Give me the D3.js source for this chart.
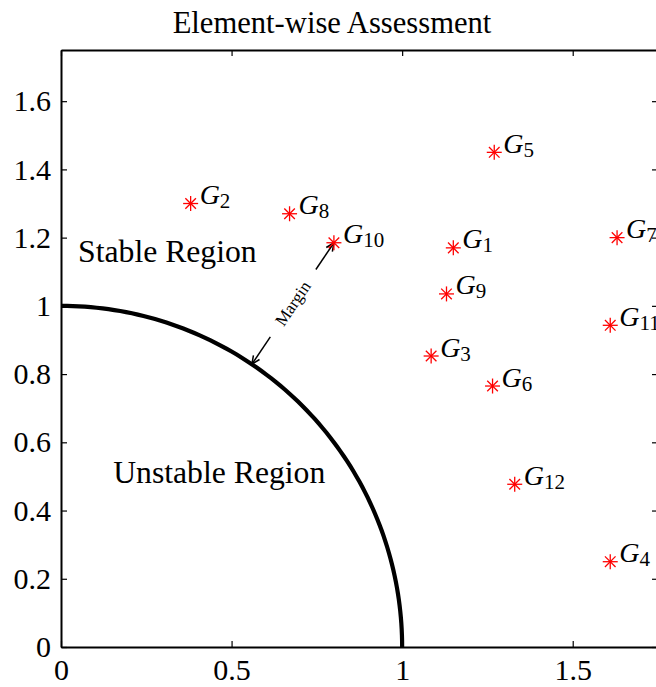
<!DOCTYPE html>
<html>
<head>
<meta charset="utf-8">
<script src="https://cdn.jsdelivr.net/npm/d3@7"></script>
<style>
  html, body { margin: 0; padding: 0; background: #fff; }
  svg { display: block; }
  text { font-family: "Liberation Serif", "Times New Roman", serif; fill: #000; }
</style>
</head>
<body>
<svg id="chart" width="656" height="687"></svg>
<script>
// Element indices and their coordinates in the assessment plane
const groupIds = ["1", "2", "3", "4", "5", "6", "7", "8", "9", "10", "11", "12"];
const groupX = [1.15, 0.38, 1.085, 1.61, 1.27, 1.265, 1.63, 0.67, 1.13, 0.80, 1.61, 1.33];
const groupY = [1.17, 1.30, 0.853, 0.25, 1.45, 0.765, 1.20, 1.27, 1.035, 1.185, 0.943, 0.477];

// Axis ticks and labels
const xTicks = [0, 0.5, 1, 1.5];
const xTickLabels = ["0", "0.5", "1", "1.5"];
const yTicks = [0, 0.2, 0.4, 0.6, 0.8, 1, 1.2, 1.4, 1.6];
const yTickLabels = ["0", "0.2", "0.4", "0.6", "0.8", "1", "1.2", "1.4", "1.6"];

// Stability boundary radius and the element used to illustrate the margin
const boundaryRadius = 1;
const marginElement = "10";

const svg = d3.select("#chart");
const plotLeft = 61, plotTop = 50, plotSize = 597;

const x = d3.scaleLinear().domain([0, 1.75]).range([plotLeft, plotLeft + plotSize]);
const y = d3.scaleLinear().domain([0, 1.75]).range([plotTop + plotSize, plotTop]);

// Title
svg.append("text")
  .attr("x", 332).attr("y", 33)
  .attr("text-anchor", "middle")
  .style("font-size", "30.6px")
  .text("Element-wise Assessment");

// Box axes: labelled bottom/left, tick-only top/right, ticks pointing inward
function styleAxis(g) {
  g.select(".domain").attr("stroke", "#000").attr("stroke-width", 2);
  g.selectAll(".tick line").attr("stroke", "#000").attr("stroke-width", 1.2);
  g.selectAll(".tick text").style("font-size", "30px").attr("fill", "#000")
    .style("font-family", "'Liberation Serif', 'Times New Roman', serif");
}

svg.append("g")
  .attr("transform", `translate(0,${y(0)})`)
  .call(d3.axisBottom(x).tickValues(xTicks)
    .tickFormat((d, i) => xTickLabels[i])
    .tickSizeInner(-6).tickSizeOuter(0).tickPadding(12))
  .call(styleAxis);

svg.append("g")
  .attr("transform", `translate(${x(0)},0)`)
  .call(d3.axisLeft(y).tickValues(yTicks)
    .tickFormat((d, i) => yTickLabels[i])
    .tickSizeInner(-6).tickSizeOuter(0).tickPadding(10))
  .call(styleAxis);

svg.append("g")
  .attr("transform", `translate(0,${y(1.75)})`)
  .call(d3.axisTop(x).tickValues(xTicks).tickFormat("")
    .tickSizeInner(-6).tickSizeOuter(0))
  .call(styleAxis);

svg.append("g")
  .attr("transform", `translate(${x(1.75)},0)`)
  .call(d3.axisRight(y).tickValues(yTicks).tickFormat("")
    .tickSizeInner(-6).tickSizeOuter(0))
  .call(styleAxis);

// Stability boundary: quarter circle of unit radius
const arcAngles = d3.range(0, 91, 1).map(a => a * Math.PI / 180);
svg.append("path")
  .datum(arcAngles)
  .attr("fill", "none")
  .attr("stroke", "#000")
  .attr("stroke-width", 4.2)
  .attr("d", d3.line()
    .x(t => x(boundaryRadius * Math.cos(t)))
    .y(t => y(boundaryRadius * Math.sin(t))));

// Region labels
svg.append("text")
  .attr("x", x(0.05)).attr("y", y(1.13))
  .style("font-size", "31.7px")
  .text("Stable Region");
svg.append("text")
  .attr("x", x(0.153)).attr("y", y(0.482))
  .style("font-size", "31.7px")
  .text("Unstable Region");

// Margin arrow: radial segment from the boundary to the chosen element
const mi = groupIds.indexOf(marginElement);
const theta = Math.atan2(groupY[mi], groupX[mi]);
const p0 = [x(boundaryRadius * Math.cos(theta)), y(boundaryRadius * Math.sin(theta))];
const p1 = [x(groupX[mi]), y(groupY[mi])];
const lerp = t => [p0[0] + (p1[0] - p0[0]) * t, p0[1] + (p1[1] - p0[1]) * t];
const gapStart = 0.225, gapEnd = 0.78;
const arrowG = svg.append("g").attr("stroke", "#000").attr("stroke-width", 1.5).attr("fill", "none");

function arrowHead(tip, from) {
  const ang = Math.atan2(tip[1] - from[1], tip[0] - from[0]);
  const len = 9, spread = 0.42;
  const a = [tip[0] - len * Math.cos(ang - spread), tip[1] - len * Math.sin(ang - spread)];
  const b = [tip[0] - len * Math.cos(ang + spread), tip[1] - len * Math.sin(ang + spread)];
  arrowG.append("path").attr("d", `M${a[0]},${a[1]}L${tip[0]},${tip[1]}L${b[0]},${b[1]}`);
}

const s1 = lerp(gapStart), s2 = lerp(gapEnd);
arrowG.append("line").attr("x1", p0[0]).attr("y1", p0[1]).attr("x2", s1[0]).attr("y2", s1[1]);
arrowG.append("line").attr("x1", s2[0]).attr("y1", s2[1]).attr("x2", p1[0]).attr("y2", p1[1]);
arrowHead(p0, s1);
arrowHead(p1, s2);

const mid = lerp(0.5);
const screenAngle = Math.atan2(p1[1] - p0[1], p1[0] - p0[0]) * 180 / Math.PI;
svg.append("text")
  .attr("transform", `translate(${mid[0]},${mid[1]}) rotate(${screenAngle})`)
  .attr("text-anchor", "middle")
  .attr("dy", "0.33em")
  .style("font-size", "17px")
  .text("Margin");

// Element markers: red asterisks
const markerR = 7.5;
const rays = [0, 45, 90, 135].map(a => a * Math.PI / 180);
const points = groupIds.map((id, i) => ({ id, gx: groupX[i], gy: groupY[i] }));

const marks = svg.append("g").selectAll("g.mark")
  .data(points).join("g")
  .attr("class", "mark")
  .attr("transform", d => `translate(${x(d.gx)},${y(d.gy)})`);

rays.forEach(a => {
  marks.append("line")
    .attr("x1", -markerR * Math.cos(a)).attr("y1", -markerR * Math.sin(a))
    .attr("x2", markerR * Math.cos(a)).attr("y2", markerR * Math.sin(a))
    .attr("stroke", "#ff0000").attr("stroke-width", 1.3);
});

// Element labels: italic G with numeric subscript
const labels = svg.append("g").selectAll("text.glabel")
  .data(points).join("text")
  .attr("class", "glabel")
  .attr("x", d => x(d.gx) + 9)
  .attr("y", d => y(d.gy) + 0.5);
labels.append("tspan")
  .style("font-style", "italic")
  .style("font-size", "28px")
  .text("G");
labels.append("tspan")
  .attr("dy", 4)
  .style("font-size", "21px")
  .text(d => d.id);
</script>
</body>
</html>
